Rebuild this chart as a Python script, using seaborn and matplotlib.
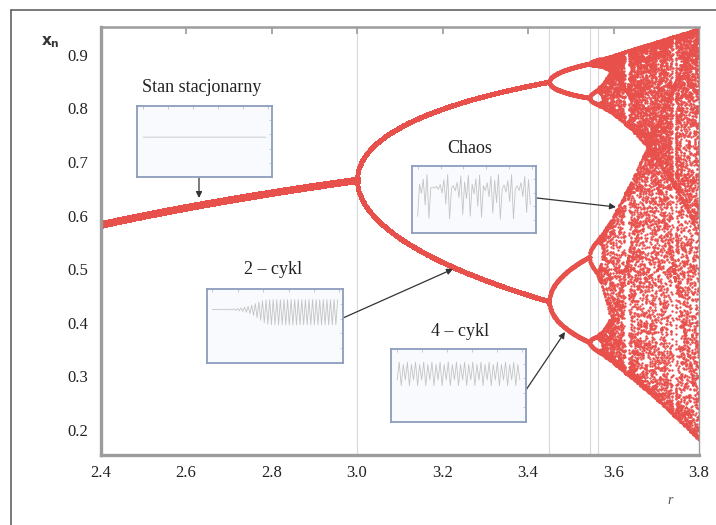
import numpy as np
import pandas as pd
import matplotlib
matplotlib.use("Agg")
import matplotlib.pyplot as plt
import seaborn as sns

# ---------------- data ----------------
R_MIN, R_MAX = 2.4, 3.8          # range of the growth parameter r
N_R = 1400                        # number of r samples
N_TRANSIENT = 3000                # discarded iterations
N_KEEP = 55                       # kept iterations per r
X_TICKS = [2.4, 2.6, 2.8, 3.0, 3.2, 3.4, 3.6, 3.8]
X_TICK_LABELS = ["2.4", "2.6", "2.8", "3.0", "3.2", "3.4", "3.6", "3.8"]
Y_TICKS = [0.2, 0.3, 0.4, 0.5, 0.6, 0.7, 0.8, 0.9]
Y_TICK_LABELS = ["0.2", "0.3", "0.4", "0.5", "0.6", "0.7", "0.8", "0.9"]
BIFURCATION_R = [3.0, 3.449, 3.544, 3.564]     # thin vertical guide lines
REGION_EDGES = [3.0, 3.45, 3.57]               # where branch thickness changes
LABELS = ["Stan stacjonarny", "Chaos", "2 – cykl", "4 – cykl"]
INSET_R = [2.8, 3.7, 3.2, 3.5]                 # r used for each inset time series
INSET_X0 = [0.643, 0.3, 0.6885, 0.5]
INSET_STEPS = [60, 60, 70, 60]
INSET_YLIM = [(0.25, 0.95), (0.05, 1.05), (0.08, 0.92), (-0.38, 1.15)]

# logistic map x_{n+1} = r x_n (1 - x_n)
r_vals = np.linspace(R_MIN, R_MAX, N_R)
x = np.full(N_R, 0.5)
for _ in range(N_TRANSIENT):
    x = r_vals * x * (1 - x)
rs, xs = [], []
for _ in range(N_KEEP):
    x = r_vals * x * (1 - x)
    rs.append(r_vals.copy())
    xs.append(x.copy())
df = pd.DataFrame({"r": np.concatenate(rs), "x": np.concatenate(xs)})

# ---------------- figure ----------------
sns.set_theme(style="white")
plt.rcParams["font.family"] = ["Liberation Serif", "DejaVu Serif"]

fig = plt.figure(figsize=(7.16, 5.25), dpi=100)
ax = fig.add_axes([0.1404, 0.1333, 0.8359, 0.8152])

red = "#e8504c"
for lo, hi, s in [(R_MIN - 1, REGION_EDGES[0], 22), (REGION_EDGES[0], REGION_EDGES[1], 9),
                  (REGION_EDGES[1], REGION_EDGES[2], 6), (REGION_EDGES[2], R_MAX + 1, 3.0)]:
    sub = df[(df.r >= lo) & (df.r < hi)]
    sns.scatterplot(data=sub, x="r", y="x", s=s, color=red, linewidth=0,
                    ax=ax, legend=False, rasterized=True)

for rb in BIFURCATION_R:
    ax.axvline(rb, color="#d6d9e0", lw=0.8, zorder=0)

ax.set_xlim(R_MIN, R_MAX)
ax.set_ylim(0.153, 0.952)
ax.set_xticks(X_TICKS, X_TICK_LABELS)
ax.set_yticks(Y_TICKS, Y_TICK_LABELS)
ax.set_xlabel("")
ax.set_ylabel("")
ax.tick_params(axis="both", direction="in", length=5, width=1.2, color="#9a9a9a",
               labelsize=12, labelcolor="#222222", top=True, right=True)
ax.tick_params(axis="x", pad=7)
ax.tick_params(axis="y", pad=9)
for side, lw in [("left", 2.4), ("bottom", 2.4), ("top", 1.8), ("right", 1.0)]:
    ax.spines[side].set_color("#9c9c9c")
    ax.spines[side].set_linewidth(lw)

# axis labels
fig.text(50 / 716, 1 - 42 / 525, r"$\mathbf{x}_{\mathbf{n}}$", fontsize=11,
         ha="center", va="center", color="#333333")
fig.text(670 / 716, 1 - 500 / 525, "r", fontsize=10, style="italic",
         ha="center", va="center", color="#555555")

# outer frame
fig.add_artist(plt.Line2D([11 / 716, 11 / 716], [0, 1 - 9.5 / 525], color="#555555", lw=1.1))
fig.add_artist(plt.Line2D([11 / 716, 1], [1 - 9.5 / 525, 1 - 9.5 / 525], color="#555555", lw=1.1))

# insets (pixel boxes: x0, y0, x1, y1 in image coords)
boxes = [(137, 106, 272, 177), (412, 166, 536, 233), (207, 289, 343, 363), (391, 349, 526, 422)]
text_pos = [(202, 87), (470, 149), (273, 270), (460, 332)]
arrows = [((199, 178), (199, 198)), ((537, 198), (616, 207)),
          ((343, 318), (453, 269)), ((526, 390), (565, 332))]

for i, (bx, lab, tp, (a0, a1)) in enumerate(zip(boxes, LABELS, text_pos, arrows)):
    x0, y0, x1, y1 = bx
    iax = fig.add_axes([x0 / 716, 1 - y1 / 525, (x1 - x0) / 716, (y1 - y0) / 525])
    iax.set_facecolor("#f8fafd")
    seq = [INSET_X0[i]]
    for _ in range(INSET_STEPS[i]):
        seq.append(INSET_R[i] * seq[-1] * (1 - seq[-1]))
    ts = pd.DataFrame({"n": np.arange(len(seq)), "v": seq})
    sns.lineplot(data=ts, x="n", y="v", ax=iax, color="#c4c4c4", lw=0.6)
    iax.set_xlim(-3, len(seq) + 2)
    iax.set_ylim(*INSET_YLIM[i])
    iax.set_xlabel("")
    iax.set_ylabel("")
    iax.set_xticks(np.linspace(0, len(seq), 6))
    iax.set_yticks(np.linspace(*INSET_YLIM[i], 6)[1:-1])
    iax.tick_params(direction="in", length=2, width=0.6, color="#b8c0d0",
                    labelbottom=False, labelleft=False, top=True, right=True)
    for sp in iax.spines.values():
        sp.set_color("#8c9cbc")
        sp.set_linewidth(1.3)
    fig.text(tp[0] / 716, 1 - tp[1] / 525, lab, fontsize=13, ha="center", va="center",
             color="#222222")
    ax.annotate("", xy=(a1[0], 525 - a1[1]), xycoords="figure pixels",
                xytext=(a0[0], 525 - a0[1]), textcoords="figure pixels",
                arrowprops=dict(arrowstyle="-|>", color="#333333", lw=0.9,
                                mutation_scale=9, shrinkA=0, shrinkB=0))

fig.savefig("out.png", dpi=100)
